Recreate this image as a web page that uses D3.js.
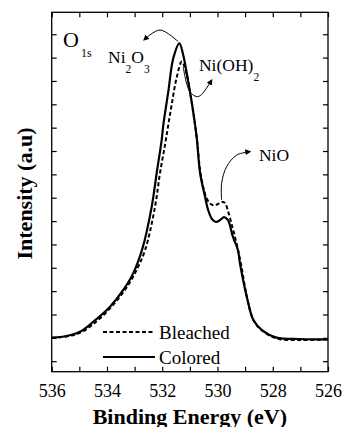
<!DOCTYPE html>
<html>
<head>
<meta charset="utf-8">
<script src="https://cdn.jsdelivr.net/npm/d3@7/dist/d3.min.js"></script>
<style>
  body { margin: 0; background: #fff; }
  svg { display: block; }
</style>
</head>
<body>
<svg id="chart" width="342" height="427"></svg>
<script>
// O1s spectrum (binding energy in eV, intensity in tick units)
var colored_energy = [536.00, 535.46, 534.98, 534.49, 533.89, 533.41, 533.05, 532.71, 532.38, 532.20,
    532.02, 531.96, 531.78, 531.60, 531.38, 531.24, 531.06, 530.88, 530.75, 530.63, 530.45, 530.34,
    530.20, 530.05, 529.91, 529.76, 529.62, 529.44, 529.26, 529.19, 528.94, 528.70, 528.40, 527.86,
    527.01, 526.00];
var colored_intensity = [1.01, 1.08, 1.26, 1.69, 2.33, 3.05, 3.76, 4.85, 6.62, 8.06,
    9.47, 10.12, 11.54, 12.97, 13.61, 13.11, 11.97, 10.69, 9.56, 8.06, 7.04, 6.48,
    6.09, 5.96, 6.04, 6.17, 6.04, 5.32, 4.76, 4.21, 2.76, 1.76, 1.34, 1.01,
    0.95, 0.93];

var bleached_energy = [536.00, 535.46, 534.98, 534.49, 533.89, 533.35, 532.99, 532.62, 532.26, 532.08,
    531.90, 531.78, 531.66, 531.48, 531.29, 531.11, 530.96, 530.75, 530.63, 530.49, 530.38, 530.27,
    530.12, 529.98, 529.84, 529.73, 529.62, 529.47, 529.33, 529.15, 528.93, 528.70, 528.39, 527.85,
    527.01, 526.00];
var bleached_intensity = [0.99, 1.06, 1.21, 1.59, 2.26, 3.05, 3.76, 4.76, 6.62, 8.06,
    9.26, 10.12, 10.97, 12.13, 12.83, 12.26, 11.30, 9.56, 8.19, 7.33, 6.95, 6.75,
    6.67, 6.73, 6.82, 6.78, 6.43, 5.79, 5.14, 4.16, 2.73, 1.76, 1.31, 0.97,
    0.91, 0.93];

var xTicks = [536, 535, 534, 533, 532, 531, 530, 529, 528, 527, 526];
var xLabels = [536, 534, 532, 530, 528, 526];
var yTicks = [0, 1, 2, 3, 4, 5, 6, 7, 8, 9, 10, 11, 12, 13, 14];

// peak labels and their arrows, in data units
var arrow_ni2o3 = [[531.42, 13.68], [532.08, 14.18], [532.66, 13.76]];
var arrow_nioh2 = [[531.24, 12.61], [531.00, 11.54], [530.69, 11.33], [530.21, 12.04]];
var arrow_nio = [[529.85, 6.90], [529.85, 7.62], [529.67, 8.33], [529.30, 8.83], [528.82, 8.97]];

var FONT = "'Liberation Serif', 'DejaVu Serif', serif";

var W = 342, H = 427;
var margin = {top: 12.3, right: 14, bottom: 55.3, left: 51.7};

var svg = d3.select("#chart");

var x = d3.scaleLinear().domain([536, 526]).range([margin.left, W - margin.right]);
var y = d3.scaleLinear().domain([-0.45, 14.94]).range([H - margin.bottom, margin.top]);

// arrowhead
svg.append("defs").append("marker")
    .attr("id", "head")
    .attr("viewBox", "0 -5 10 10")
    .attr("refX", 8)
    .attr("refY", 0)
    .attr("markerUnits", "userSpaceOnUse")
    .attr("markerWidth", 6)
    .attr("markerHeight", 6)
    .attr("orient", "auto")
    .append("path")
    .attr("d", "M0,-5L10,0L0,5Z")
    .attr("fill", "#000");

// axes: ticks point inward on all four sides
var gx = svg.append("g")
    .attr("transform", "translate(0," + (H - margin.bottom) + ")")
    .call(d3.axisBottom(x).tickValues(xTicks).tickSizeInner(-5).tickSizeOuter(0).tickPadding(12.2)
        .tickFormat(function(d) { return xLabels.indexOf(d) >= 0 ? d : ""; }));
gx.attr("font-family", FONT).attr("font-size", 18);
gx.selectAll("text").attr("fill", "#000");

svg.append("g")
    .attr("transform", "translate(0," + margin.top + ")")
    .call(d3.axisTop(x).tickValues(xTicks).tickSizeInner(-5).tickSizeOuter(0).tickFormat(""));

svg.append("g")
    .attr("transform", "translate(" + margin.left + ",0)")
    .call(d3.axisLeft(y).tickValues(yTicks).tickSizeInner(-5).tickSizeOuter(0).tickFormat(""));

svg.append("g")
    .attr("transform", "translate(" + (W - margin.right) + ",0)")
    .call(d3.axisRight(y).tickValues(yTicks).tickSizeInner(-5).tickSizeOuter(0).tickFormat(""));

svg.selectAll(".domain").remove();
svg.selectAll(".tick line").attr("stroke", "#000").attr("stroke-width", 1.2);

svg.append("rect")
    .attr("x", margin.left)
    .attr("y", margin.top)
    .attr("width", W - margin.left - margin.right)
    .attr("height", H - margin.top - margin.bottom)
    .attr("fill", "none")
    .attr("stroke", "#000")
    .attr("stroke-width", 1.3);

// spectra
var line = d3.line()
    .x(function(d) { return x(d[0]); })
    .y(function(d) { return y(d[1]); })
    .curve(d3.curveCatmullRom.alpha(0.5));

svg.append("path")
    .datum(d3.zip(bleached_energy, bleached_intensity))
    .attr("d", line)
    .attr("fill", "none")
    .attr("stroke", "#000")
    .attr("stroke-width", 2)
    .attr("stroke-dasharray", "4,2.5");

svg.append("path")
    .datum(d3.zip(colored_energy, colored_intensity))
    .attr("d", line)
    .attr("fill", "none")
    .attr("stroke", "#000")
    .attr("stroke-width", 2.2);

// annotation arrows
[arrow_ni2o3, arrow_nioh2, arrow_nio].forEach(function(pts) {
    svg.append("path")
        .attr("d", line(pts))
        .attr("fill", "none")
        .attr("stroke", "#000")
        .attr("stroke-width", 1)
        .attr("marker-end", "url(#head)");
});

// labels
var o1s = svg.append("text")
    .attr("x", x(535.59))
    .attr("y", y(13.47))
    .attr("font-family", FONT)
    .attr("font-size", 22);
o1s.append("tspan").text("O");
o1s.append("tspan").attr("font-size", 12).attr("dx", 2).attr("dy", 10).text("1s");

function chemLabel(e, v, parts) {
    var t = svg.append("text").attr("x", x(e)).attr("y", y(v))
        .attr("font-family", FONT).attr("font-size", 17.5);
    var shift = 0;
    parts.forEach(function(p) {
        var s = t.append("tspan").text(p.text);
        if (p.sub) {
            s.attr("font-size", 11.5).attr("dy", 10 - shift);
            shift = 10;
        } else {
            s.attr("dy", -shift);
            shift = 0;
        }
    });
}

chemLabel(533.96, 12.76, [{text: "Ni"}, {text: "2", sub: true}, {text: "O"}, {text: "3", sub: true}]);
chemLabel(530.67, 12.44, [{text: "Ni(OH)"}, {text: "2", sub: true}]);
chemLabel(528.50, 8.57, [{text: "NiO"}]);

// legend
var legend = [
    {name: "Bleached", dash: "4,2.5", width: 2, y: 332},
    {name: "Colored", dash: null, width: 2.2, y: 357}
];
legend.forEach(function(d) {
    svg.append("line")
        .attr("x1", 103).attr("x2", 155)
        .attr("y1", d.y).attr("y2", d.y)
        .attr("stroke", "#000")
        .attr("stroke-width", d.width)
        .attr("stroke-dasharray", d.dash);
    svg.append("text")
        .attr("x", 159)
        .attr("y", d.y + 6.5)
        .attr("font-family", FONT)
        .attr("font-size", 19)
        .text(d.name);
});

// axis titles
svg.append("text")
    .attr("x", (margin.left + W - margin.right) / 2)
    .attr("y", 424)
    .attr("text-anchor", "middle")
    .attr("font-family", FONT)
    .attr("font-size", 22)
    .attr("font-weight", "bold")
    .text("Binding Energy (eV)");

svg.append("text")
    .attr("transform", "translate(32,193.5) rotate(-90)")
    .attr("text-anchor", "middle")
    .attr("font-family", FONT)
    .attr("font-size", 22)
    .attr("font-weight", "bold")
    .text("Intensity (a.u)");
</script>
</body>
</html>
